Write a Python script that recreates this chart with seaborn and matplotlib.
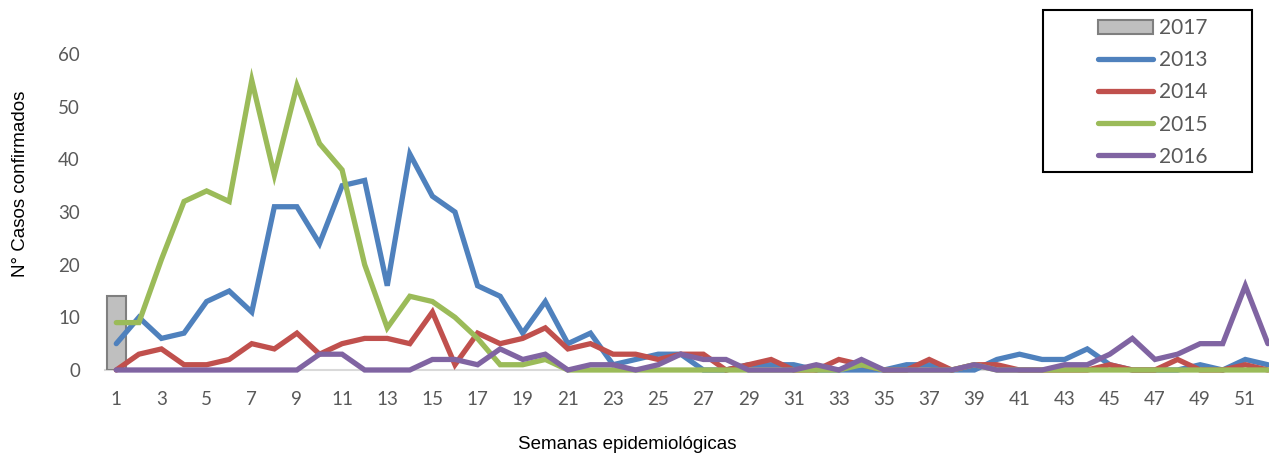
import matplotlib
matplotlib.use("Agg")
import matplotlib.pyplot as plt
import matplotlib.patches as mpatches
from matplotlib.lines import Line2D
import numpy as np
import pandas as pd
import seaborn as sns

###############################################################################
# Data (confirmed cases per epidemiological week).

weeks = list(range(1, 53))
casos_2013 = [5, 10, 6, 7, 13, 15, 11, 31, 31, 24,
              35, 36, 16, 41, 33, 30, 16, 14, 7, 13,
              5, 7, 1, 2, 3, 3, 0, 0, 1, 1,
              1, 0, 0, 0, 0, 1, 1, 0, 0, 2,
              3, 2, 2, 4, 1, 0, 0, 0, 1, 0, 2, 1]
casos_2014 = [0, 3, 4, 1, 1, 2, 5, 4, 7, 3,
              5, 6, 6, 5, 11, 1, 7, 5, 6, 8,
              4, 5, 3, 3, 2, 3, 3, 0, 1, 2,
              0, 0, 2, 1, 0, 0, 2, 0, 1, 1,
              0, 0, 0, 0, 1, 0, 0, 2, 0, 0, 1, 0]
casos_2015 = [9, 9, 21, 32, 34, 32, 55, 37, 54, 43,
              38, 20, 8, 14, 13, 10, 6, 1, 1, 2,
              0, 0, 0, 0, 0, 0, 0, 0, 0, 0,
              0, 0, 0, 1, 0, 0, 0, 0, 1, 0,
              0, 0, 0, 0, 0, 0, 0, 0, 0, 0, 0, 0]
casos_2016 = [0, 0, 0, 0, 0, 0, 0, 0, 0, 3,
              3, 0, 0, 0, 2, 2, 1, 4, 2, 3,
              0, 1, 1, 0, 1, 3, 2, 2, 0, 0,
              0, 1, 0, 2, 0, 0, 0, 0, 1, 0,
              0, 0, 1, 1, 3, 6, 2, 3, 5, 5, 16, 5]
weeks_2017 = [1]
casos_2017 = [14]

years = ["2013", "2014", "2015", "2016"]
series = [casos_2013, casos_2014, casos_2015, casos_2016]

###############################################################################
# Plot settings.

sns.set_style("white")
plt.rcParams['font.family'] = ['Lato', 'DejaVu Sans']
palette = ["#4F81BD", "#C0504D", "#9BBB59", "#8064A2"]
text_grey = "#595959"

df = pd.concat(
    [pd.DataFrame({"semana": weeks, "casos": vals, "anio": yr})
     for yr, vals in zip(years, series)], ignore_index=True)

W, H = 1269, 454
fig = plt.figure(figsize=(W / 100, H / 100), dpi=100)
ax = fig.add_axes([105 / W, 84 / H, (W - 105) / W, 316 / H])

###############################################################################
# 2017 bar and 2013-2016 lines.

ax.bar(weeks_2017, casos_2017, width=0.82, color="#BFBFBF",
       edgecolor="#7F7F7F", linewidth=1.5, zorder=2.6)
sns.lineplot(data=df, x="semana", y="casos", hue="anio", palette=palette,
             ax=ax, linewidth=3.8, legend=False, zorder=3)
for line in ax.get_lines():
    line.set_solid_capstyle("round")
    line.set_solid_joinstyle("miter")
    line.set_clip_on(False)

###############################################################################
# Axes.

ax.set_xlim(0.5, 52.05)
ax.set_ylim(0, 60)
ax.set_xticks(np.arange(1, 53, 2))
ax.set_yticks(np.arange(0, 61, 10))
ax.tick_params(axis="both", length=0, labelsize=13.5, colors=text_grey)
ax.tick_params(axis="x", pad=15)
ax.tick_params(axis="y", pad=18)
for side in ["left", "right", "top"]:
    ax.spines[side].set_visible(False)
ax.spines["bottom"].set_color("#D9D9D9")
ax.spines["bottom"].set_linewidth(1.5)
ax.spines["bottom"].set_zorder(1)

ax.set_xlabel("Semanas epidemiológicas", fontsize=13.5,
              family=["Liberation Sans", "DejaVu Sans"], color="black")
ax.xaxis.set_label_coords((627 - 105) / (W - 105), -(436 - 370) / 316)
ax.set_ylabel("N° Casos confirmados", fontsize=13.5,
              family=["Liberation Sans", "DejaVu Sans"], color="black")
ax.yaxis.set_label_coords(-(105 - 29) / (W - 105), (370 - 184) / 316)

###############################################################################
# Legend with a plain black box.

fig.patches.append(mpatches.Rectangle(
    (1043 / W, 1 - 172 / H), 209 / W, 162 / H, transform=fig.transFigure,
    facecolor="white", edgecolor="black", linewidth=1.5, zorder=5))
handles = [mpatches.Patch(facecolor="#BFBFBF", edgecolor="#7F7F7F",
                          linewidth=1.5, label="2017")]
handles += [Line2D([], [], color=c, linewidth=3.8, solid_capstyle="round",
                   label=yr) for c, yr in zip(palette, years)]
leg = fig.legend(handles=handles, loc="upper left",
                 bbox_to_anchor=(1090 / W, 1 - 10 / H), frameon=False,
                 fontsize=15, handlelength=2.6, handletextpad=0.3,
                 labelspacing=0.58, borderaxespad=0)
leg.set_zorder(6)
for t in leg.get_texts():
    t.set_color(text_grey)

fig.savefig("out.png", dpi=100)
